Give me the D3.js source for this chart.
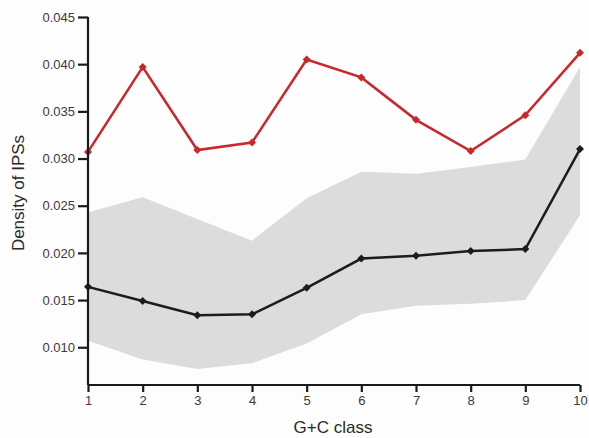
<!DOCTYPE html>
<html>
<head>
<meta charset="utf-8">
<script src="https://cdn.jsdelivr.net/npm/d3@7"></script>
<style>
  body { margin: 0; background: #fdfdfd; }
  svg { display: block; }
  .tick text { font-family: "Liberation Sans", Arial, sans-serif; font-size: 13px; fill: #3a3a3a; }
  .axis-label { font-family: "Liberation Sans", Arial, sans-serif; font-size: 17px; fill: #2a2a2a; }
</style>
</head>
<body>
<svg id="chart"></svg>
<script>
// G+C classes
const classes = [1, 2, 3, 4, 5, 6, 7, 8, 9, 10];

// observed density (red)
const observed = [0.0307, 0.0397, 0.0309, 0.0317, 0.0405, 0.0386, 0.0341, 0.0308, 0.0346, 0.0412];

// expected density (black) with grey envelope
const expected = [0.0164, 0.0149, 0.0134, 0.0135, 0.0163, 0.0194, 0.0197, 0.0202, 0.0204, 0.0310];
const upper = [0.0243, 0.0259, 0.0236, 0.0213, 0.0258, 0.0286, 0.0284, 0.0291, 0.0299, 0.0397];
const lower = [0.0107, 0.0087, 0.0077, 0.0083, 0.0104, 0.0135, 0.0144, 0.0146, 0.0150, 0.0240];

const yTicks = [0.010, 0.015, 0.020, 0.025, 0.030, 0.035, 0.040, 0.045];

const width = 589;
const height = 438;

const svg = d3.select("#chart")
    .attr("width", width)
    .attr("height", height);

const x = d3.scaleLinear().domain([1, 10]).range([88, 580]);
const y = d3.scaleLinear().domain([0.006, 0.045]).range([385, 17]);

// grey band
const band = d3.area()
    .x((d, i) => x(classes[i]))
    .y0((d, i) => y(lower[i]))
    .y1(d => y(d));

svg.append("path")
    .datum(upper)
    .attr("d", band)
    .attr("fill", "#dcdcdc");

const line = d3.line()
    .x((d, i) => x(classes[i]))
    .y(d => y(d));

const diamond = d3.symbol().type(d3.symbolSquare).size(32);

function drawSeries(values, color) {
    svg.append("path")
        .datum(values)
        .attr("d", line)
        .attr("fill", "none")
        .attr("stroke", color)
        .attr("stroke-width", 2.5)
        .attr("stroke-linejoin", "miter");

    svg.selectAll(null)
        .data(values)
        .enter()
        .append("path")
        .attr("d", diamond)
        .attr("transform", (d, i) => "translate(" + x(classes[i]) + "," + y(d) + ") rotate(45)")
        .attr("fill", color);
}

drawSeries(expected, "#1c1c1c");
drawSeries(observed, "#c9282a");

// axes
const xAxis = d3.axisBottom(x).tickValues(classes).tickSize(7).tickPadding(4).tickFormat(d3.format("d"));
const gx = svg.append("g")
    .attr("transform", "translate(0,385)")
    .call(xAxis);

const yAxis = d3.axisLeft(y).tickValues(yTicks).tickSize(10).tickPadding(3).tickFormat(d3.format(".3f"));
const gy = svg.append("g")
    .attr("transform", "translate(88,0)")
    .call(yAxis);

gx.select(".domain").attr("d", "M88,0H580");
gy.select(".domain").attr("d", "M0,17V385");
[gx, gy].forEach(g => {
    g.select(".domain").attr("stroke", "#1a1a1a").attr("stroke-width", 2.2);
    g.selectAll(".tick line").attr("stroke", "#1a1a1a").attr("stroke-width", 2.2);
});

svg.append("text")
    .attr("class", "axis-label")
    .attr("x", 333)
    .attr("y", 433)
    .style("text-anchor", "middle")
    .text("G+C class");

svg.append("text")
    .attr("class", "axis-label")
    .attr("transform", "rotate(-90)")
    .attr("x", -193)
    .attr("y", 24)
    .style("text-anchor", "middle")
    .text("Density of IPSs");
</script>
</body>
</html>
